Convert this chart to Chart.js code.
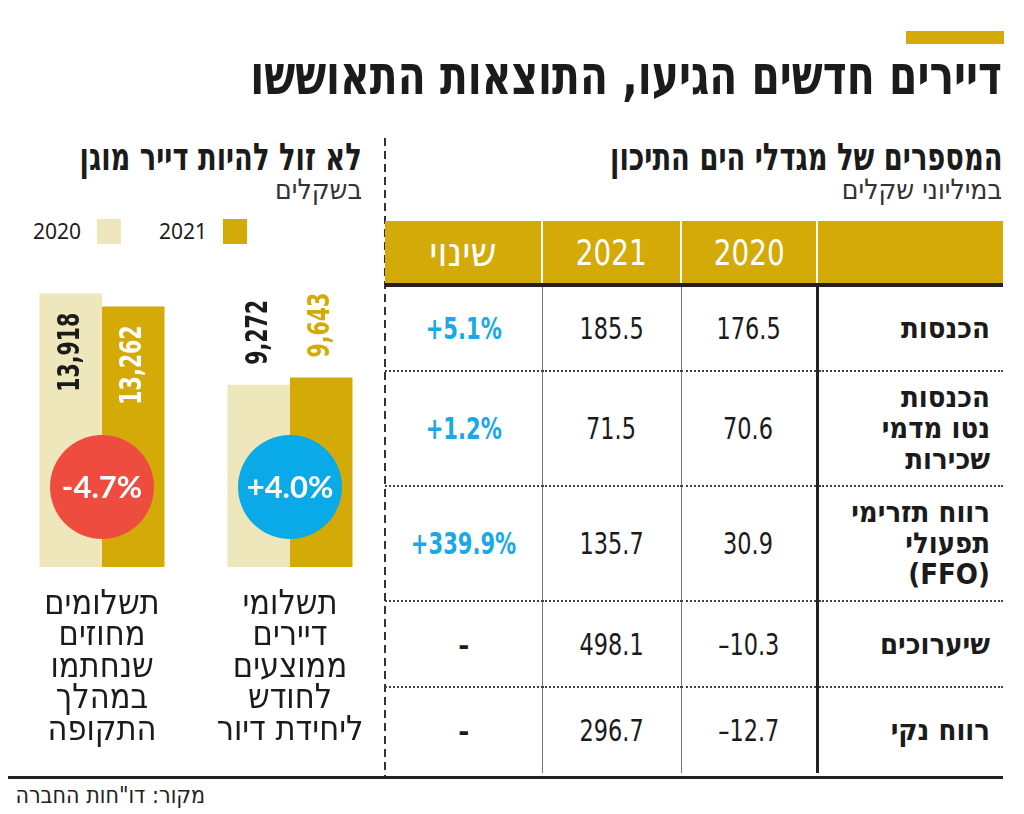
<!DOCTYPE html>
<html lang="he">
<head>
<meta charset="utf-8">
<title>דיירים חדשים הגיעו, התוצאות התאוששו</title>
<script src="https://cdn.jsdelivr.net/npm/chart.js@4.4.0/dist/chart.umd.min.js"></script>
<style>
html, body { margin: 0; padding: 0; background: #fff; }
body {
    width: 1024px; height: 814px; position: relative; overflow: hidden;
    font-family: 'Liberation Sans Narrow', 'DejaVu Sans Condensed', sans-serif;
    color: #1b1b1b;
}
.sx { display: inline-block; transform: scaleX(var(--s)); }
#topbar { position: absolute; left: 906px; top: 31px; width: 98px; height: 13px; background: #D4AA08; }
#title {
    position: absolute; right: 22px; top: 47px; margin: 0;
    font-size: 54px; line-height: 58px; font-weight: 700; direction: rtl; white-space: nowrap;
    transform: scaleX(0.84); transform-origin: right center;
}
.head { position: absolute; top: 137px; direction: rtl; text-align: right; white-space: nowrap; }
.head h2 {
    margin: 0; font-size: 38px; line-height: 40px; font-weight: 700;
    transform: scaleX(0.8); transform-origin: right center;
}
.head p { margin: -4px 0 0 0; font-size: 28px; line-height: 34px; font-weight: 400; color: #333; }
#leftHead { right: 662px; }
#rightHead { right: 22px; }
#legend {
    position: absolute; right: 777px; top: 219px; display: flex; direction: rtl; gap: 38px;
    font-family: 'Noto Sans', sans-serif; font-size: 21px; line-height: 25px;
}
#legend .item { display: flex; align-items: center; gap: 16px; }
#legend .box { width: 24px; height: 25px; }
#sep {
    position: absolute; left: 384px; top: 138px; width: 2px; height: 640px;
    background: repeating-linear-gradient(to bottom, #333 0 8px, transparent 8px 13px);
}
#baseline { position: absolute; left: 8px; top: 776px; width: 995px; height: 3px; background: #222; }
#barChart { position: absolute; left: 0; top: 262px; }
#tbl {
    position: absolute; left: 385px; top: 221px; width: 618px;
    border-collapse: collapse; table-layout: fixed; direction: rtl;
}
#tbl th {
    background: #D4AA08; color: #fff; height: 62px; padding: 0;
    font-size: 36px; font-weight: 400; border-left: 2px solid #fff;
}
#tbl th.heb { font-size: 41px; }
#tbl th:last-child { border-left: none; }
#tbl thead tr { border-bottom: 4px solid #222; }
#tbl td { padding: 0; text-align: center; border-left: 1px solid #777; font-size: 30px; }
#tbl td.lab {
    text-align: right; padding-right: 13px; font-weight: 700; font-size: 29px; line-height: 31px;
    border-left: 3px solid #222;
}
#tbl td.num { direction: ltr; }
#tbl td.chg { direction: ltr; font-weight: 700; color: #19A9E6; }
#tbl td.chg.none { color: #1b1b1b; }
#tbl td:last-child { border-left: none; }
#tbl tbody tr + tr { border-top: 2px dotted #444; }
#source {
    position: absolute; right: 819px; top: 781px; direction: rtl; white-space: nowrap;
    font-size: 23px; line-height: 28px; color: #222;
}
</style>
</head>
<body>
<div id="topbar"></div>
<h1 id="title">דיירים חדשים הגיעו, התוצאות התאוששו</h1>

<div class="head" id="leftHead">
    <h2>לא זול להיות דייר מוגן</h2>
    <p>בשקלים</p>
</div>
<div class="head" id="rightHead">
    <h2>המספרים של מגדלי הים התיכון</h2>
    <p>במיליוני שקלים</p>
</div>

<div id="legend"></div>
<div id="sep"></div>
<canvas id="barChart" width="385" height="500"></canvas>
<table id="tbl"></table>
<div id="baseline"></div>
<div id="source">מקור: דו&quot;חות החברה</div>

<script>
// bar chart data (categories in reading order, right to left)
const barCategories = [
    ['תשלומי', 'דיירים', 'ממוצעים', 'לחודש', 'ליחידת דיור'],
    ['תשלומים', 'מחוזים', 'שנחתמו', 'במהלך', 'התקופה']
];
const seriesLabels = ['2020', '2021'];
const values2020 = [9272, 13918];
const values2021 = [9643, 13262];

// table data
const tableYears = ['2020', '2021'];
const changeHeader = 'שינוי';
const rowLabels = [
    ['הכנסות'],
    ['הכנסות', 'נטו מדמי', 'שכירות'],
    ['רווח תזרימי', 'תפעולי', '(FFO)'],
    ['שיערוכים'],
    ['רווח נקי']
];
const rows2020 = [176.5, 70.6, 30.9, -10.3, -12.7];
const rows2021 = [185.5, 71.5, 135.7, 498.1, 296.7];
const rowChanges = ['+5.1%', '+1.2%', '+339.9%', '–', '–'];

const GOLD = '#D4AA08';
const PALE = '#EEE7BC';
const seriesColors = [PALE, GOLD];
const barFont = "'Liberation Sans Narrow', 'DejaVu Sans Condensed', sans-serif";

// legend
const legend = document.getElementById('legend');
for (let i = seriesLabels.length - 1; i >= 0; i--) {
    const item = document.createElement('div');
    item.className = 'item';
    item.innerHTML = '<span class="box" style="background:' + seriesColors[i] + '"></span><span>' + seriesLabels[i] + '</span>';
    legend.appendChild(item);
}

// table
const fmt = v => (v < 0 ? '–' : '') + Math.abs(v).toFixed(1);
const sx = (txt, s) => '<span class="sx" style="--s:' + s + '">' + txt + '</span>';
let html = '<colgroup><col style="width:186px"><col style="width:136px"><col style="width:139px"><col style="width:157px"></colgroup>';
html += '<thead><tr><th></th>';
tableYears.forEach(y => { html += '<th>' + sx(y, 0.86) + '</th>'; });
html += '<th class="heb">' + changeHeader + '</th></tr></thead><tbody>';
rowLabels.forEach((lab, i) => {
    const h = 86 + (lab.length - 1) * 14.5;
    html += '<tr style="height:' + h + 'px">';
    html += '<td class="lab">' + lab.join('<br>') + '</td>';
    html += '<td class="num">' + sx(fmt(rows2020[i]), 0.83) + '</td>';
    html += '<td class="num">' + sx(fmt(rows2021[i]), 0.83) + '</td>';
    html += '<td class="chg' + (rowChanges[i].length < 2 ? ' none' : '') + '">' + sx(rowChanges[i], 0.78) + '</td>';
    html += '</tr>';
});
html += '</tbody>';
document.getElementById('tbl').innerHTML = html;

// value labels + change circles
const barLabels = {
    id: 'barLabels',
    afterDatasetsDraw(chart) {
        const ctx = chart.ctx;
        const area = chart.chartArea;
        const yMax = chart.scales.y.max;
        ctx.save();
        ctx.font = 'bold 30px ' + barFont;
        ctx.textBaseline = 'middle';
        chart.data.datasets.forEach((ds, di) => {
            chart.getDatasetMeta(di).data.forEach((bar, i) => {
                const v = ds.data[i];
                const inside = v > yMax * 0.8;
                ctx.save();
                ctx.translate(bar.x, inside ? bar.y + 19 : bar.y - 20);
                ctx.rotate(-Math.PI / 2);
                ctx.scale(0.76, 1);
                ctx.textAlign = inside ? 'right' : 'left';
                if (inside) ctx.fillStyle = di === 0 ? '#1b1b1b' : '#fff';
                else ctx.fillStyle = di === 0 ? '#1b1b1b' : GOLD;
                ctx.fillText(v.toLocaleString('en-US'), 0, 0);
                ctx.restore();
            });
        });

        const xs = chart.scales.x;
        barCategories.forEach((c, i) => {
            const change = (values2021[i] - values2020[i]) / values2020[i] * 100;
            const cx = xs.getPixelForValue(i);
            const cy = area.bottom - 80;
            ctx.beginPath();
            ctx.arc(cx, cy, 52, 0, Math.PI * 2);
            ctx.fillStyle = change < 0 ? '#EE4C3F' : '#0AA9E8';
            ctx.fill();
            ctx.fillStyle = '#fff';
            ctx.textAlign = 'center';
            ctx.font = "bold 31px Lato, sans-serif";
            ctx.fillText((change < 0 ? '-' : '+') + Math.abs(change).toFixed(1) + '%', cx, cy + 1);
        });
        ctx.restore();
    }
};

const barChart = new Chart(document.getElementById('barChart'), {
    type: 'bar',
    data: {
        labels: barCategories,
        datasets: [
            { label: seriesLabels[0], data: values2020, backgroundColor: seriesColors[0] },
            { label: seriesLabels[1], data: values2021, backgroundColor: seriesColors[1] }
        ]
    },
    options: {
        responsive: false,
        animation: false,
        barPercentage: 1,
        categoryPercentage: 0.665,
        layout: { padding: { left: 8, right: 1, top: 30, bottom: 0 } },
        plugins: {
            legend: { display: false },
            tooltip: { enabled: false }
        },
        scales: {
            x: {
                reverse: true,
                grid: { display: false, drawTicks: false },
                border: { display: false },
                ticks: {
                    color: '#1b1b1b',
                    font: { family: barFont, size: 34, lineHeight: 0.93 },
                    padding: 22,
                    maxRotation: 0,
                    autoSkip: false
                },
                afterFit(scale) { scale.height = 195; }
            },
            y: { display: false, min: 0, max: 14000 }
        }
    },
    plugins: [barLabels]
});
</script>
</body>
</html>
